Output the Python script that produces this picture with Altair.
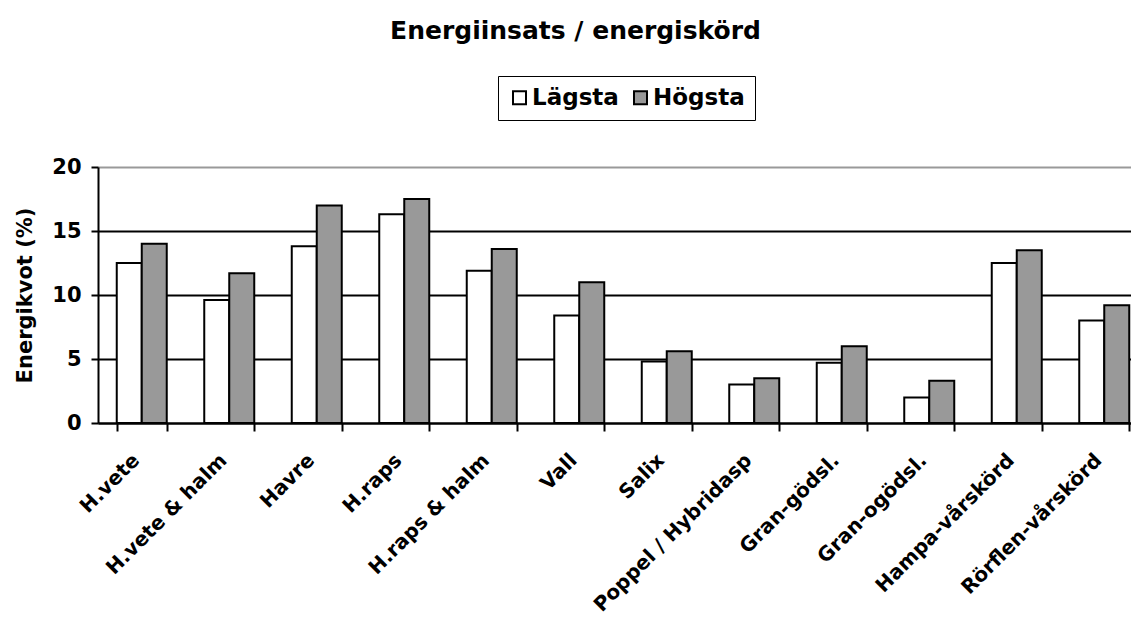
import altair as alt
import pandas as pd

categories = ["H.vete", "H.vete & halm", "Havre", "H.raps", "H.raps & halm", "Vall",
              "Salix", "Poppel / Hybridasp", "Gran-gödsl.", "Gran-ogödsl.",
              "Hampa-vårskörd", "Rörflen-vårskörd"]
lagsta = [12.5, 9.6, 13.8, 16.3, 11.9, 8.4, 4.8, 3.0, 4.7, 2.0, 12.5, 8.0]
hogsta = [14.0, 11.7, 17.0, 17.5, 13.6, 11.0, 5.6, 3.5, 6.0, 3.3, 13.5, 9.2]
series = ["Lägsta", "Högsta"]
colors = ["#ffffff", "#999999"]
y_ticks = [0, 5, 10, 15, 20]

rows = []
for c, lo, hi in zip(categories, lagsta, hogsta):
    rows.append({"kategori": c, "serie": series[0], "varde": lo})
    rows.append({"kategori": c, "serie": series[1], "varde": hi})
df = pd.DataFrame(rows)

FONT = "DejaVu Sans"

chart = alt.Chart(df).mark_bar(stroke="black", strokeWidth=2, opacity=1).encode(
    x=alt.X("kategori:N", sort=categories, title=None,
            scale=alt.Scale(range=[0, 1050], paddingInner=0.4286, paddingOuter=0.2143),
            axis=alt.Axis(labelAngle=315, labelAlign="right", labelBaseline="middle",
                          labelPadding=26, labelOffset=-6, tickSize=8, tickBand="extent",
                          labelFontSize=20, domainWidth=2, tickWidth=2, grid=False,
                          labelLimit=400, labelOverlap=False)),
    xOffset=alt.XOffset("serie:N", sort=series,
                        scale=alt.Scale(domain=series, paddingInner=0, paddingOuter=0)),
    y=alt.Y("varde:Q", title="Energikvot (%)",
            scale=alt.Scale(domain=[0, 20], nice=False),
            axis=alt.Axis(values=y_ticks, tickSize=7, labelPadding=10, labelFontSize=21,
                          domainWidth=2, tickWidth=2, grid=True, gridWidth=2,
                          gridColor={"condition": {"test": "datum.value == 20", "value": "#999999"},
                                     "value": "black"},
                          titleX=-73, titleY=128, titleAngle=270, titleAlign="center",
                          titleBaseline="middle", titleFontSize=21)),
    fill=alt.Fill("serie:N", sort=series,
                  scale=alt.Scale(domain=series, range=colors),
                  legend=alt.Legend(title=None, orient="none", legendX=400, legendY=-91,
                                    direction="horizontal", strokeColor="black", padding=10,
                                    symbolType="square", symbolSize=169,
                                    symbolStrokeColor="black", symbolStrokeWidth=2,
                                    labelFontSize=23, labelFont=FONT, labelFontWeight="bold",
                                    labelColor="black", labelOffset=1, columnPadding=10)),
).properties(
    width=1033, height=256,
    autosize=alt.AutoSizeParams(type="none"),
    padding={"left": 90, "top": 159, "right": 0, "bottom": 193},
    title=alt.TitleParams("Energiinsats / energiskörd", font=FONT, fontSize=25,
                          fontWeight="bold", color="black", anchor="middle",
                          frame="group", baseline="alphabetic", offset=12, dx=-39),
).configure_axis(
    labelFont=FONT, labelFontWeight="bold", labelColor="black",
    titleFont=FONT, titleFontWeight="bold", titleColor="black",
    domainColor="black", tickColor="black",
).configure_view(strokeWidth=0)

chart.save("out.html", embed_options={"renderer": "svg", "actions": False})
